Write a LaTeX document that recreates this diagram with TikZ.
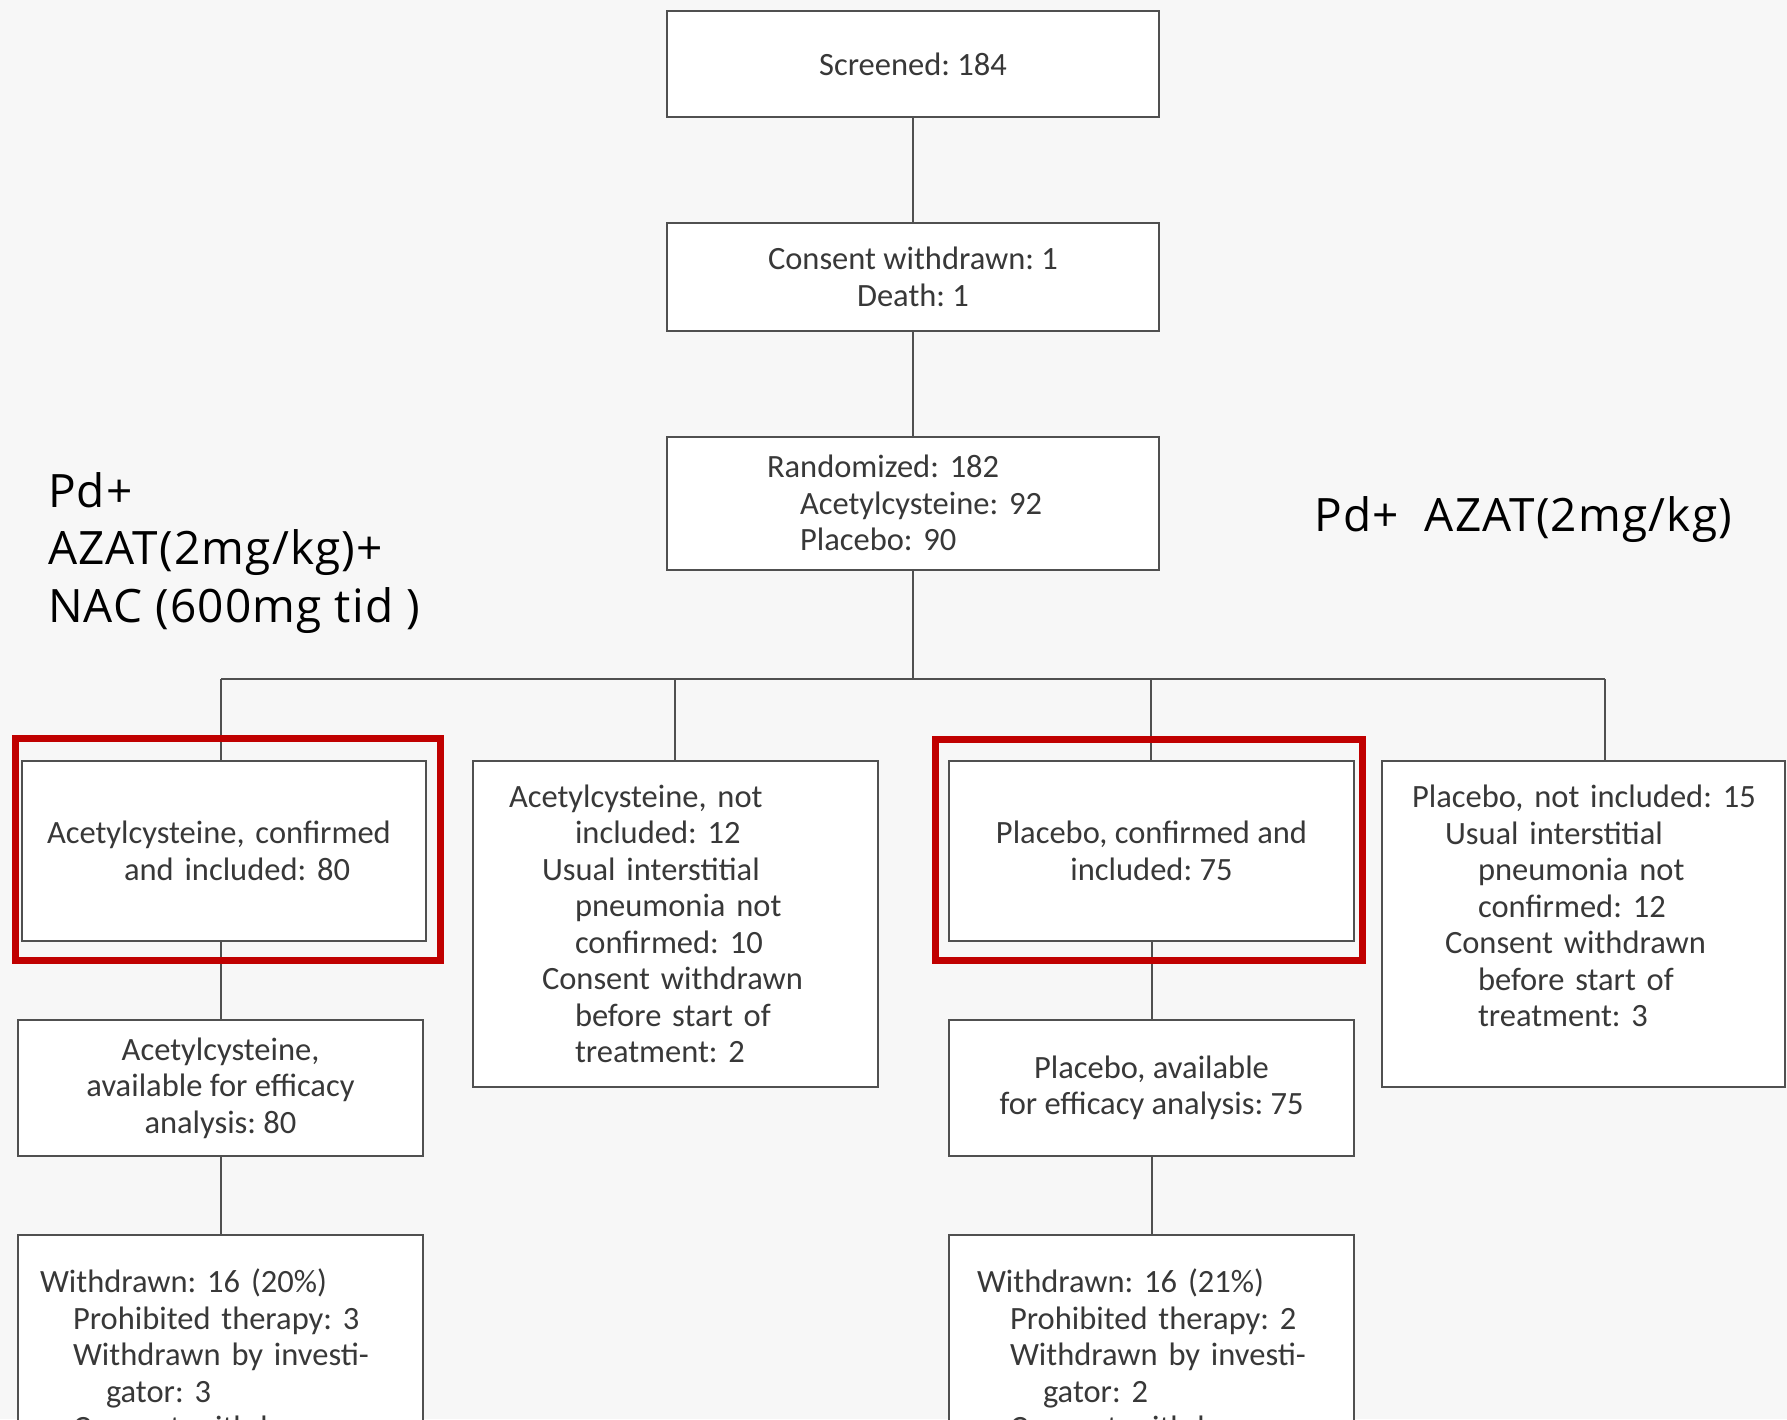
\documentclass[tikz,border=0pt]{standalone}
\usepackage{fontspec}
\setmainfont{Carlito}
\newfontfamily\armfont[LetterSpace=2.5]{Open Sans}
\usepackage{tikz}
\usetikzlibrary{calc}
\definecolor{paper}{HTML}{F7F7F7}
\definecolor{frame}{HTML}{505050}
\definecolor{ink}{HTML}{383838}
\definecolor{mark}{HTML}{C00000}
\newcommand{\subi}{\hspace*{33pt}}
\newcommand{\subii}{\hspace*{66pt}}
\frenchspacing

\begin{document}
\begin{tikzpicture}[x=1pt,y=-1pt]
  \tikzstyle{box}=[draw=frame,line width=2pt,fill=white,inner sep=0pt,text=ink,font=\fontsize{32.5}{36.5}\selectfont]
  \tikzstyle{link}=[draw=frame,line width=2pt]
  \tikzstyle{hilite}=[draw=mark,line width=7pt]
  \tikzstyle{arm}=[inner sep=0pt,text=black,font=\armfont\fontsize{46}{57.5}\selectfont]
  \clip (0,0) rectangle (1787,1419);
  \fill[paper] (0,0) rectangle (1787,1419);
  % trunk
  \node[box,minimum width=492,minimum height=106,align=center] (scr) at (913,64) {Screened: 184};
  \node[box,minimum width=492,minimum height=108,align=center] (cons) at (913,277) {Consent withdrawn: 1\\Death: 1};
  \node[box,minimum width=492,minimum height=133,text width=292,inner xsep=100,align=left] (rand) at (913,503)
    {Randomized: 182\\\subi Acetylcysteine: 92\\\subi Placebo: 90};
  % branch line
  \coordinate (c1) at (221,679);
  \coordinate (c2) at (675,679);
  \coordinate (c3) at (1151,679);
  \coordinate (c4) at (1605,679);
  % first row
  \node[box,minimum width=404,minimum height=180,text width=354,inner xsep=25,align=left] (acin) at (224,851)
    {Acetylcysteine, confirmed\\\hspace*{77pt}and included: 80};
  \node[box,minimum width=405,minimum height=326,text width=333,inner xsep=36,align=left] (acout) at (675.5,924)
    {Acetylcysteine, not\\\subii included: 12\\\subi Usual interstitial\\\subii pneumonia not\\\subii confirmed: 10\\\subi Consent withdrawn\\\subii before start of\\\subii treatment: 2};
  \node[box,minimum width=405,minimum height=180,align=center] (plin) at (1151.5,851)
    {Placebo, confirmed and\\included: 75};
  \node[box,minimum width=403,minimum height=326,text width=343,inner xsep=30,align=left] (plout) at (1583.5,924)
    {\mbox{Placebo, not included: 15}\\\subi Usual interstitial\\\subii pneumonia not\\\subii confirmed: 12\\\subi Consent withdrawn\\\subii before start of\\\subii treatment: 3\\\mbox{}};
  % second row
  \node[box,minimum width=405,minimum height=136,align=center] (acav) at (220.5,1088)
    {Acetylcysteine,\\available for efficacy\\analysis: 80};
  \node[box,minimum width=405,minimum height=136,align=center] (plav) at (1151.5,1088)
    {Placebo, available\\for efficacy analysis: 75};
  % third row
  \node[box,minimum width=405,minimum height=238,text width=361,inner xsep=22,align=left] (acwd) at (220.5,1354)
    {Withdrawn: 16 (20\%)\\\subi Prohibited therapy: 3\\\subi Withdrawn by investi-\\\subii gator: 3\\\subi Consent withdrawn};
  \node[box,minimum width=405,minimum height=238,text width=349,inner xsep=28,align=left] (plwd) at (1151.5,1354)
    {Withdrawn: 16 (21\%)\\\subi Prohibited therapy: 2\\\subi Withdrawn by investi-\\\subii gator: 2\\\subi Consent withdrawn};
  % connectors
  \draw[link] (scr)--(cons);
  \draw[link] (cons)--(rand);
  \draw[link] (rand)--(rand |- c1);
  \draw[link] (c1)--(c4);
  \draw[link] (c1)--(c1 |- acin.north);
  \draw[link] (c2)--(c2 |- acout.north);
  \draw[link] (c3)--(c3 |- plin.north);
  \draw[link] (c4)--(c4 |- plout.north);
  \draw[link] (acav.north |- acin.south)--(acav);
  \draw[link] (acav)--(acwd);
  \draw[link] (plin)--(plav);
  \draw[link] (plav)--(plwd);
  % highlight frames
  \draw[hilite] ($(acin.north west)+(-6,-21.5)$) rectangle ($(acin.south east)+(13.5,18.5)$);
  \draw[hilite] ($(plin.north west)+(-13,-21)$) rectangle ($(plin.south east)+(7,18)$);
  % arm labels
  \node[arm,align=left,anchor=north west] (armnac) at (48,472) {Pd+\\AZAT(2mg/kg)+\\NAC (600mg tid )};
  \node[arm,anchor=base west] (armaza) at (1314,531) {Pd+\ \ AZAT(2mg/kg)};
\end{tikzpicture}
\end{document}
